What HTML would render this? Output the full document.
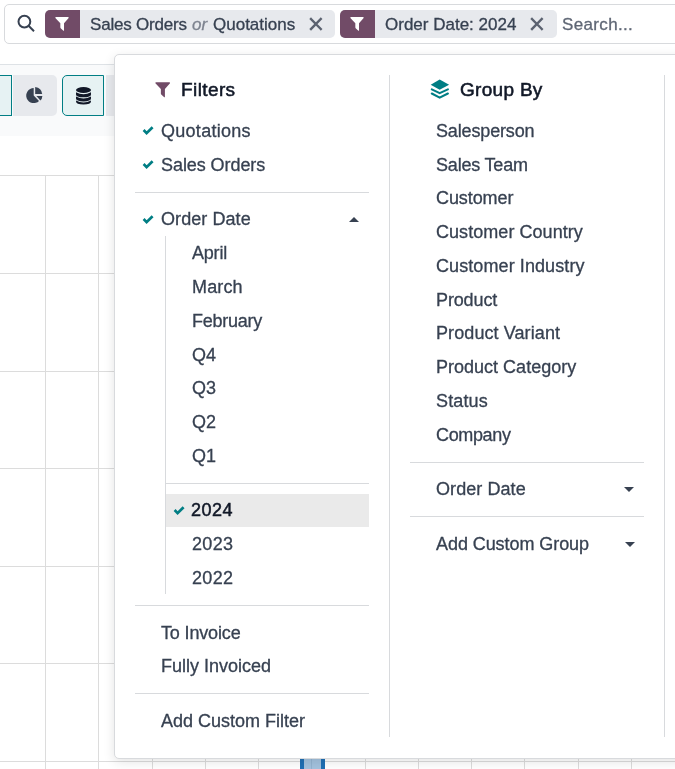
<!DOCTYPE html>
<html><head><meta charset="utf-8"><style>
html,body{margin:0;padding:0;}
body{width:675px;height:769px;overflow:hidden;position:relative;background:#fff;font-family:"Liberation Sans", sans-serif;}
.t{position:absolute;white-space:nowrap;will-change:transform;-webkit-text-stroke:0.3px currentColor;}
i{font-style:italic;}
</style></head><body>
<div style="position:absolute;left:0px;top:64px;width:675px;height:1px;background:#DEE2E6"></div>
<div style="position:absolute;left:0px;top:65px;width:675px;height:71px;background:#F9FAFB"></div>
<div style="position:absolute;left:0px;top:175px;width:675px;height:1px;background:#DCDCDC"></div>
<div style="position:absolute;left:0px;top:273px;width:675px;height:1px;background:#DCDCDC"></div>
<div style="position:absolute;left:0px;top:371px;width:675px;height:1px;background:#DCDCDC"></div>
<div style="position:absolute;left:0px;top:468px;width:675px;height:1px;background:#DCDCDC"></div>
<div style="position:absolute;left:0px;top:566px;width:675px;height:1px;background:#DCDCDC"></div>
<div style="position:absolute;left:0px;top:663px;width:675px;height:1px;background:#DCDCDC"></div>
<div style="position:absolute;left:0px;top:761px;width:675px;height:1px;background:#DCDCDC"></div>
<div style="position:absolute;left:45px;top:175px;width:1px;height:594px;background:#DCDCDC"></div>
<div style="position:absolute;left:98px;top:175px;width:1px;height:594px;background:#DCDCDC"></div>
<div style="position:absolute;left:152px;top:175px;width:1px;height:594px;background:#DCDCDC"></div>
<div style="position:absolute;left:205px;top:175px;width:1px;height:594px;background:#DCDCDC"></div>
<div style="position:absolute;left:258px;top:175px;width:1px;height:594px;background:#DCDCDC"></div>
<div style="position:absolute;left:311px;top:175px;width:1px;height:594px;background:#DCDCDC"></div>
<div style="position:absolute;left:365px;top:175px;width:1px;height:594px;background:#DCDCDC"></div>
<div style="position:absolute;left:418px;top:175px;width:1px;height:594px;background:#DCDCDC"></div>
<div style="position:absolute;left:471px;top:175px;width:1px;height:594px;background:#DCDCDC"></div>
<div style="position:absolute;left:524px;top:175px;width:1px;height:594px;background:#DCDCDC"></div>
<div style="position:absolute;left:578px;top:175px;width:1px;height:594px;background:#DCDCDC"></div>
<div style="position:absolute;left:631px;top:175px;width:1px;height:594px;background:#DCDCDC"></div>
<div style="position:absolute;left:299.5px;top:759px;width:25px;height:10px;background:#A3C2DE;border-left:4px solid #1F6FB4;border-right:4px solid #1F6FB4;box-sizing:border-box"></div>
<div style="position:absolute;left:311px;top:759px;width:1px;height:10px;background:#93B3D0"></div>
<div style="position:absolute;left:-20px;top:75px;width:32px;height:41px;background:#E6F2F3;border:1px solid #017E84;box-sizing:border-box"></div>
<div style="position:absolute;left:13px;top:75px;width:44px;height:41px;background:#E7E9ED;border-radius:0 5px 5px 0"></div>
<svg style="position:absolute;left:25px;top:86px;overflow:visible" width="18" height="16" viewBox="0 0 18 16"><path d="M8.7,2.1 V9.6 L14.0,14.9 A7.5,7.5 0 1 1 8.7,2.1 Z" fill="#374151"/>
<path d="M10.2,0.9 A8,8 0 0 1 17.2,8 H10.2 Z" fill="#374151"/>
<path d="M11.4,9.9 H17.4 A8,8 0 0 1 15.4,14.6 Z" fill="#374151"/></svg>
<div style="position:absolute;left:62px;top:75px;width:42px;height:41px;background:#E6F2F3;border:1px solid #017E84;border-radius:5px 0 0 5px;box-sizing:border-box"></div>
<svg style="position:absolute;left:76px;top:87px;overflow:visible" width="15" height="17" viewBox="0 0 15 17"><ellipse cx="7.5" cy="3" rx="7.5" ry="3" fill="#111827"/>
<path d="M0,5.2 Q7.5,9.4 15,5.2 V7.4 Q15,10.2 7.5,10.2 Q0,10.2 0,7.4 Z" fill="#111827"/>
<path d="M0,9.4 Q7.5,13.6 15,9.4 V11.6 Q15,14.4 7.5,14.4 Q0,14.4 0,11.6 Z" fill="#111827"/>
<path d="M0,13.4 Q7.5,17.4 15,13.4 V14.2 Q15,17.4 7.5,17.4 Q0,17.4 0,14.2 Z" fill="#111827"/></svg>
<div style="position:absolute;left:106px;top:75px;width:30px;height:41px;background:#E7E9ED"></div>
<div style="position:absolute;left:4px;top:4px;width:700px;height:40px;background:#fff;border:1px solid #D8DADD;border-radius:5px;box-sizing:border-box"></div>
<svg style="position:absolute;left:17px;top:14.2px;overflow:visible" width="18" height="18" viewBox="0 0 18 18"><circle cx="7.4" cy="7.6" r="5.9" fill="none" stroke="#374151" stroke-width="2"/><path d="M11.6,11.8 L17,17.2" stroke="#374151" stroke-width="2" stroke-linecap="butt"/></svg>
<div style="position:absolute;left:45px;top:10px;width:290px;height:28px;background:#E7E9ED;border-radius:5px"></div>
<div style="position:absolute;left:45px;top:10px;width:35px;height:28px;background:#714B67;border-radius:5px 0 0 5px"></div>
<svg style="position:absolute;left:55px;top:17px;overflow:visible" width="14" height="14" viewBox="0 0 16 16"><path d="M0.4,1.2 Q0,0 1.3,0 H14.7 Q16,0 15.6,1.2 L10.3,7 V15 Q10.3,16.2 9.3,15.4 L6.5,12.8 Q6.1,12.4 6.1,11.8 V7 Z" fill="#fff"/></svg>
<div class="t" style="left:90px;top:15px;font-size:17px;line-height:19px;color:#374151;font-weight:400;letter-spacing:-0.2px;">Sales Orders</div>
<div class="t" style="left:191.5px;top:15px;font-size:17px;line-height:19px;color:#7D838F;font-weight:400;"><i>or</i></div>
<div class="t" style="left:212.5px;top:15px;font-size:17px;line-height:19px;color:#374151;font-weight:400;">Quotations</div>
<svg style="position:absolute;left:309.9px;top:17.6px;overflow:visible" width="11.8" height="12" viewBox="0 0 11.8 12"><path d="M1,1 L10.8,11 M10.8,1 L1,11" stroke="#5B6270" stroke-width="2.4" stroke-linecap="square"/></svg>
<div style="position:absolute;left:340px;top:10px;width:217px;height:28px;background:#E7E9ED;border-radius:5px"></div>
<div style="position:absolute;left:340px;top:10px;width:35px;height:28px;background:#714B67;border-radius:5px 0 0 5px"></div>
<svg style="position:absolute;left:350px;top:17px;overflow:visible" width="14" height="14" viewBox="0 0 16 16"><path d="M0.4,1.2 Q0,0 1.3,0 H14.7 Q16,0 15.6,1.2 L10.3,7 V15 Q10.3,16.2 9.3,15.4 L6.5,12.8 Q6.1,12.4 6.1,11.8 V7 Z" fill="#fff"/></svg>
<div class="t" style="left:385px;top:15px;font-size:17px;line-height:19px;color:#374151;font-weight:400;">Order Date: 2024</div>
<svg style="position:absolute;left:531.4px;top:17.6px;overflow:visible" width="11.8" height="12" viewBox="0 0 11.8 12"><path d="M1,1 L10.8,11 M10.8,1 L1,11" stroke="#5B6270" stroke-width="2.4" stroke-linecap="square"/></svg>
<div class="t" style="left:562px;top:15px;font-size:17px;line-height:19px;color:#5F6775;font-weight:400;letter-spacing:0.35px;">Search...</div>
<div style="position:absolute;left:114px;top:54px;width:700px;height:705px;background:#fff;border:1px solid #D8DADD;border-radius:5px;box-sizing:border-box;box-shadow:0 3px 12px rgba(0,0,0,0.11)"></div>
<div style="position:absolute;left:389px;top:75px;width:1px;height:662px;background:#D8DADD"></div>
<div style="position:absolute;left:664px;top:75px;width:1px;height:662px;background:#D8DADD"></div>
<svg style="position:absolute;left:155px;top:82px;overflow:visible" width="15.4" height="15.8" viewBox="0 0 16 16"><path d="M0.4,1.2 Q0,0 1.3,0 H14.7 Q16,0 15.6,1.2 L10.3,7 V15 Q10.3,16.2 9.3,15.4 L6.5,12.8 Q6.1,12.4 6.1,11.8 V7 Z" fill="#714B67"/></svg>
<div class="t" style="left:180.7px;top:79px;font-size:19px;line-height:21px;color:#111827;font-weight:400;letter-spacing:0.4px;-webkit-text-stroke:0.55px currentColor;">Filters</div>
<svg style="position:absolute;left:142px;top:126px;overflow:visible" width="11" height="8" viewBox="0 0 11 8"><path d="M1.6,4.0 L4.6,7.1 L10.6,1.2" fill="none" stroke="#017E84" stroke-width="2.7" stroke-linejoin="miter"/></svg>
<div class="t" style="left:160.9px;top:121px;font-size:18px;line-height:20px;color:#374151;font-weight:400;letter-spacing:0.28px;">Quotations</div>
<svg style="position:absolute;left:142px;top:160px;overflow:visible" width="11" height="8" viewBox="0 0 11 8"><path d="M1.6,4.0 L4.6,7.1 L10.6,1.2" fill="none" stroke="#017E84" stroke-width="2.7" stroke-linejoin="miter"/></svg>
<div class="t" style="left:160.9px;top:155px;font-size:18px;line-height:20px;color:#374151;font-weight:400;letter-spacing:-0.07px;">Sales Orders</div>
<div style="position:absolute;left:135px;top:192px;width:234px;height:1px;background:#D8DADD"></div>
<svg style="position:absolute;left:142px;top:215px;overflow:visible" width="11" height="8" viewBox="0 0 11 8"><path d="M1.6,4.0 L4.6,7.1 L10.6,1.2" fill="none" stroke="#017E84" stroke-width="2.7" stroke-linejoin="miter"/></svg>
<div class="t" style="left:160.9px;top:209px;font-size:18px;line-height:20px;color:#374151;font-weight:400;letter-spacing:0.07px;">Order Date</div>
<svg style="position:absolute;left:348.5px;top:217px;overflow:visible" width="10" height="5" viewBox="0 0 10 5"><polygon points="0,5 5,0 10,5" fill="#374151"/></svg>
<div style="position:absolute;left:165px;top:236px;width:1px;height:358px;background:#D8DADD"></div>
<div class="t" style="left:191.6px;top:243px;font-size:18px;line-height:20px;color:#374151;font-weight:400;letter-spacing:-0.2px;">April</div>
<div class="t" style="left:191.6px;top:277px;font-size:18px;line-height:20px;color:#374151;font-weight:400;letter-spacing:0.15px;">March</div>
<div class="t" style="left:191.6px;top:311px;font-size:18px;line-height:20px;color:#374151;font-weight:400;letter-spacing:-0.24px;">February</div>
<div class="t" style="left:191.6px;top:345px;font-size:18px;line-height:20px;color:#374151;font-weight:400;letter-spacing:0.0px;">Q4</div>
<div class="t" style="left:191.6px;top:378px;font-size:18px;line-height:20px;color:#374151;font-weight:400;letter-spacing:0.0px;">Q3</div>
<div class="t" style="left:191.6px;top:412px;font-size:18px;line-height:20px;color:#374151;font-weight:400;letter-spacing:0.0px;">Q2</div>
<div class="t" style="left:191.6px;top:446px;font-size:18px;line-height:20px;color:#374151;font-weight:400;letter-spacing:0.0px;">Q1</div>
<div style="position:absolute;left:165px;top:483px;width:204px;height:1px;background:#D8DADD"></div>
<div style="position:absolute;left:166px;top:494px;width:203px;height:33px;background:#EAEAEA"></div>
<svg style="position:absolute;left:173px;top:506px;overflow:visible" width="11" height="8" viewBox="0 0 11 8"><path d="M1.6,4.0 L4.6,7.1 L10.6,1.2" fill="none" stroke="#017E84" stroke-width="2.7" stroke-linejoin="miter"/></svg>
<div class="t" style="left:191.3px;top:500px;font-size:18px;line-height:20px;color:#111827;font-weight:400;letter-spacing:0.5px;-webkit-text-stroke:0.5px currentColor;">2024</div>
<div class="t" style="left:191.6px;top:534px;font-size:18px;line-height:20px;color:#374151;font-weight:400;letter-spacing:0.33px;">2023</div>
<div class="t" style="left:191.6px;top:568px;font-size:18px;line-height:20px;color:#374151;font-weight:400;letter-spacing:0.33px;">2022</div>
<div style="position:absolute;left:135px;top:605px;width:234px;height:1px;background:#D8DADD"></div>
<div class="t" style="left:160.9px;top:623px;font-size:18px;line-height:20px;color:#374151;font-weight:400;letter-spacing:-0.15px;">To Invoice</div>
<div class="t" style="left:160.9px;top:656px;font-size:18px;line-height:20px;color:#374151;font-weight:400;letter-spacing:-0.01px;">Fully Invoiced</div>
<div style="position:absolute;left:135px;top:693px;width:234px;height:1px;background:#D8DADD"></div>
<div class="t" style="left:160.9px;top:711px;font-size:18px;line-height:20px;color:#374151;font-weight:400;letter-spacing:0.0px;">Add Custom Filter</div>
<svg style="position:absolute;left:425px;top:74px;overflow:visible" width="30" height="30" viewBox="0 0 30 30"><polygon points="14.67,5.5 24.1,10.67 14.67,15.85 5.7,10.67" fill="#017E84"/>
<polyline points="6.8,15.4 14.67,19.1 22.9,15.4" fill="none" stroke="#017E84" stroke-width="2.1" stroke-linecap="round" stroke-linejoin="round"/>
<polyline points="6.8,19.5 14.67,23.6 22.9,19.5" fill="none" stroke="#017E84" stroke-width="2.1" stroke-linecap="round" stroke-linejoin="round"/></svg>
<div class="t" style="left:459.6px;top:79px;font-size:19px;line-height:21px;color:#111827;font-weight:400;letter-spacing:0.3px;-webkit-text-stroke:0.55px currentColor;">Group By</div>
<div class="t" style="left:435.8px;top:121px;font-size:18px;line-height:20px;color:#374151;font-weight:400;letter-spacing:-0.15px;">Salesperson</div>
<div class="t" style="left:435.8px;top:155px;font-size:18px;line-height:20px;color:#374151;font-weight:400;letter-spacing:-0.19px;">Sales Team</div>
<div class="t" style="left:435.8px;top:188px;font-size:18px;line-height:20px;color:#374151;font-weight:400;letter-spacing:-0.09px;">Customer</div>
<div class="t" style="left:435.8px;top:222px;font-size:18px;line-height:20px;color:#374151;font-weight:400;letter-spacing:0.05px;">Customer Country</div>
<div class="t" style="left:435.8px;top:256px;font-size:18px;line-height:20px;color:#374151;font-weight:400;letter-spacing:0.09px;">Customer Industry</div>
<div class="t" style="left:435.8px;top:290px;font-size:18px;line-height:20px;color:#374151;font-weight:400;letter-spacing:-0.13px;">Product</div>
<div class="t" style="left:435.8px;top:323px;font-size:18px;line-height:20px;color:#374151;font-weight:400;letter-spacing:0.09px;">Product Variant</div>
<div class="t" style="left:435.8px;top:357px;font-size:18px;line-height:20px;color:#374151;font-weight:400;letter-spacing:0.01px;">Product Category</div>
<div class="t" style="left:435.8px;top:391px;font-size:18px;line-height:20px;color:#374151;font-weight:400;letter-spacing:0.12px;">Status</div>
<div class="t" style="left:435.8px;top:425px;font-size:18px;line-height:20px;color:#374151;font-weight:400;letter-spacing:-0.35px;">Company</div>
<div style="position:absolute;left:410px;top:462px;width:234px;height:1px;background:#D8DADD"></div>
<div class="t" style="left:435.8px;top:479px;font-size:18px;line-height:20px;color:#374151;font-weight:400;letter-spacing:0.07px;">Order Date</div>
<svg style="position:absolute;left:623.5px;top:487px;overflow:visible" width="10" height="5" viewBox="0 0 10 5"><polygon points="0,0 10,0 5,5" fill="#374151"/></svg>
<div style="position:absolute;left:410px;top:516px;width:234px;height:1px;background:#D8DADD"></div>
<div class="t" style="left:435.8px;top:534px;font-size:18px;line-height:20px;color:#374151;font-weight:400;letter-spacing:-0.07px;">Add Custom Group</div>
<svg style="position:absolute;left:624.5px;top:542px;overflow:visible" width="10" height="5" viewBox="0 0 10 5"><polygon points="0,0 10,0 5,5" fill="#374151"/></svg>
</body></html>
